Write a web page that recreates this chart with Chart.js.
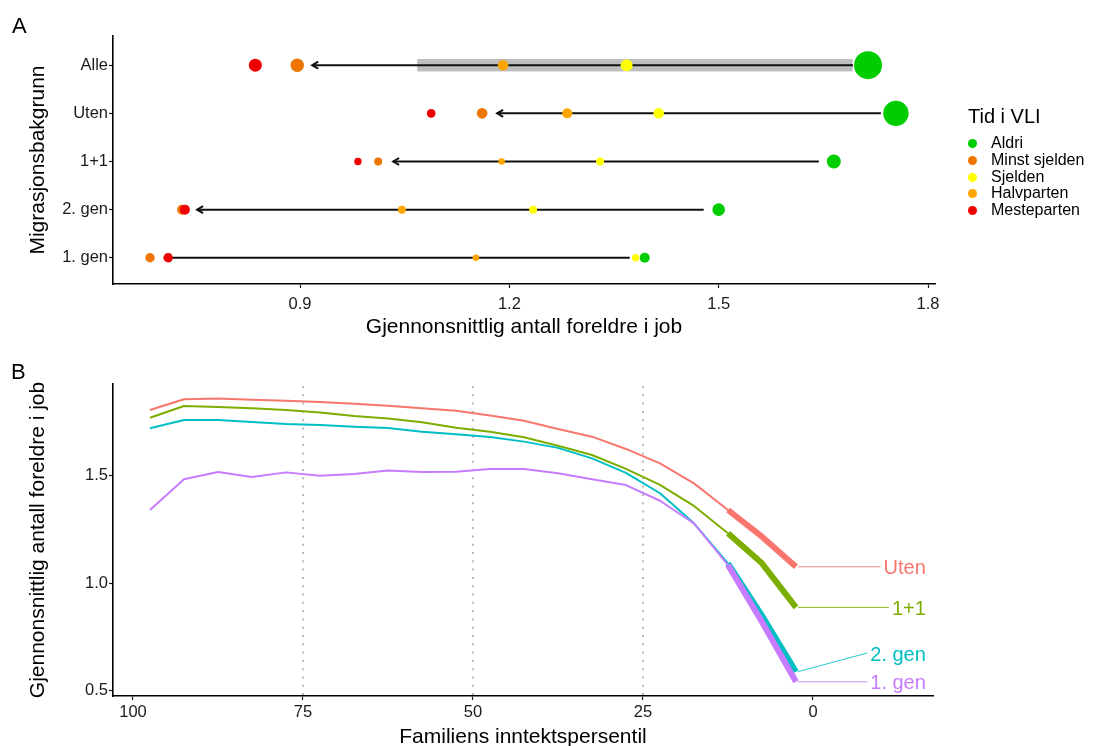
<!DOCTYPE html>
<html>
<head>
<meta charset="utf-8">
<script src="https://cdn.jsdelivr.net/npm/chart.js@4.4.1/dist/chart.umd.min.js"></script>
<style>
  html, body { margin: 0; padding: 0; background: #fff; overflow: hidden; }
  #wrap { position: relative; width: 1093px; height: 746px; overflow: hidden; font-family: 'Liberation Sans', Arial, sans-serif; }
  canvas { position: absolute; left: 0; top: 0; }
  .panel { position: absolute; font-size: 22px; color: #000; line-height: 1; }
  #legend { position: absolute; left: 968px; top: 104px; color: #000; }
  #legend .ttl { font-size: 20px; line-height: 24px; margin-bottom: 7px; }
  #legend .it { position: relative; height: 16.8px; font-size: 16px; line-height: 16.8px; padding-left: 23px; }
  #legend .dot { position: absolute; left: 0px; top: 4px; width: 9px; height: 9px; border-radius: 50%; }
</style>
</head>
<body>
<div id="wrap">
  <canvas id="cA" width="1093" height="345"></canvas>
  <canvas id="cB" width="1093" height="750"></canvas>
  <div class="panel" style="left:12px; top:15px;">A</div>
  <div class="panel" style="left:11px; top:361px;">B</div>
  <div id="legend"></div>
</div>
<script>
// ---------------- DATA ----------------
// Panel A
const groups = ["Alle", "Uten", "1+1", "2. gen", "1. gen"];
const vliCategories = ["Aldri", "Minst sjelden", "Sjelden", "Halvparten", "Mesteparten"];
const aldri        = [1.714, 1.754, 1.665, 1.500, 1.394];
const minstSjelden = [0.896, 1.161, 1.012, 0.731, 0.685];
const sjelden      = [1.368, 1.414, 1.330, 1.234, 1.381];
const halvparten   = [1.191, 1.283, 1.189, 1.046, 1.152];
const mesteparten  = [0.836, 1.088, 0.983, 0.735, 0.711];
const alleBandLow  = 1.068;
const alleBandHigh = 1.692;
const xTicksA = [0.9, 1.2, 1.5, 1.8];

// Panel B
const percentiles = [97.5, 92.5, 87.5, 82.5, 77.5, 72.5, 67.5, 62.5, 57.5, 52.5,
                     47.5, 42.5, 37.5, 32.5, 27.5, 22.5, 17.5, 12.5, 7.5, 2.5];
const seriesNames = ["Uten", "1+1", "2. gen", "1. gen"];
const uten   = [1.806, 1.856, 1.859, 1.854, 1.849, 1.843, 1.835, 1.826, 1.814, 1.803,
                1.780, 1.756, 1.718, 1.682, 1.625, 1.558, 1.465, 1.341, 1.217, 1.077];
const enPlusEn = [1.770, 1.825, 1.820, 1.814, 1.806, 1.794, 1.778, 1.767, 1.749, 1.724,
                1.705, 1.679, 1.640, 1.597, 1.532, 1.458, 1.360, 1.233, 1.093, 0.888];
const andreGen = [1.721, 1.760, 1.760, 1.750, 1.741, 1.736, 1.728, 1.722, 1.705, 1.693,
                1.680, 1.659, 1.630, 1.581, 1.514, 1.419, 1.279, 1.093, 0.850, 0.589];
const forsteGen = [1.341, 1.484, 1.518, 1.494, 1.516, 1.500, 1.508, 1.525, 1.518, 1.519,
                1.532, 1.532, 1.512, 1.484, 1.457, 1.384, 1.279, 1.085, 0.820, 0.542];
const xTicksB = [100, 75, 50, 25, 0];
const yTicksB = [0.5, 1.0, 1.5];
const refPercentiles = [75, 50, 25];
const thickFromPercentile = 12.5;

// ---------------- STYLE ----------------
const FONT = "'Liberation Sans', Arial, sans-serif";
Chart.defaults.font.family = FONT;
Chart.defaults.color = '#1a1a1a';
const TICK_FONT = 16.5, TITLE_FONT = 21;
const vliColors = ['#00CD00', '#EE7600', '#FFFF00', '#FFA500', '#EE0000'];
// point radii (per group row, top to bottom)
const RADII = {
  "Aldri":         [14, 12.7, 7, 6.3, 5],
  "Minst sjelden": [6.7, 5.3, 4, 5, 4.7],
  "Sjelden":       [6, 5.3, 4, 4, 3.7],
  "Halvparten":    [5.3, 5, 3.3, 4, 3.3],
  "Mesteparten":   [6.5, 4.3, 3.7, 5, 4.7]
};
const seriesColors = ['#F8766D', '#7CAE00', '#00BFC4', '#C77CFF'];
const labelPos = { xRight: -16.6, y: [1.077, 0.888, 0.676, 0.542] };
const ARROW_GAP = 15;

// Legend (HTML)
const leg = document.getElementById('legend');
leg.innerHTML = '<div class="ttl">Tid i VLI</div>' + vliCategories.map((c, i) =>
  `<div class="it"><span class="dot" style="background:${vliColors[i]}"></span>${c}</div>`).join('');

const rowVal = i => groups.length - i; // Alle -> 5 (top)

// ---------------- PANEL A ----------------
const valsA = [aldri, minstSjelden, sjelden, halvparten, mesteparten];
const datasetsA = vliCategories.map((c, k) => ({
  label: c,
  type: 'scatter',
  data: valsA[k].map((v, i) => ({ x: v, y: rowVal(i) })),
  pointRadius: RADII[c],
  pointHoverRadius: RADII[c],
  pointBackgroundColor: vliColors[k],
  pointBorderWidth: 0,
  borderWidth: 0,
  order: vliCategories.length - k
}));

const arrowsPlugin = {
  id: 'arrows',
  beforeDatasetsDraw(chart) {
    const { ctx, scales: { x, y } } = chart;
    ctx.save();
    // grey band for "Alle"
    const yb = y.getPixelForValue(rowVal(0));
    ctx.fillStyle = '#BEBEBE';
    const xa = x.getPixelForValue(alleBandLow), xb = x.getPixelForValue(alleBandHigh);
    ctx.fillRect(xa, yb - 6.2, xb - xa, 12.4);
    // arrows
    ctx.strokeStyle = '#111';
    ctx.lineWidth = 2;
    groups.forEach((g, i) => {
      const yy = y.getPixelForValue(rowVal(i));
      const x1 = x.getPixelForValue(aldri[i]) - ARROW_GAP;
      const x2 = x.getPixelForValue(minstSjelden[i]) + ARROW_GAP;
      ctx.beginPath();
      ctx.moveTo(x1, yy); ctx.lineTo(x2, yy); ctx.stroke();
      ctx.beginPath();
      ctx.moveTo(x2 + 6, yy - 3.5); ctx.lineTo(x2, yy); ctx.lineTo(x2 + 6, yy + 3.5);
      ctx.stroke();
    });
    ctx.restore();
  }
};

new Chart(document.getElementById('cA'), {
  type: 'scatter',
  data: { datasets: datasetsA },
  options: {
    responsive: false, animation: false,
    layout: { padding: { left: 0, top: 36, right: 158, bottom: 0 } },
    plugins: { legend: { display: false }, tooltip: { enabled: false } },
    scales: {
      x: {
        type: 'linear', min: 0.632, max: 1.81,
        afterBuildTicks: a => { a.ticks = xTicksA.map(v => ({ value: v })); },
        afterFit: a => { a.height = 345 - 284; },
        ticks: { font: { size: TICK_FONT }, color: '#1a1a1a', padding: 6.5, callback: v => v.toFixed(1), maxRotation: 0 },
        grid: { display: true, drawOnChartArea: false, tickLength: 4, tickColor: '#1a1a1a', tickWidth: 1.2 },
        border: { color: '#000', width: 1.6 },
        title: { display: true, text: 'Gjennonsnittlig antall foreldre i job', font: { size: TITLE_FONT }, color: '#000', padding: { top: 0, bottom: 5 } }
      },
      y: {
        type: 'linear', min: 0.455, max: 5.607,
        afterBuildTicks: a => { a.ticks = groups.map((g, i) => ({ value: rowVal(i) })); },
        afterFit: a => { a.width = 113; },
        ticks: { font: { size: TICK_FONT }, color: '#1a1a1a', padding: 1, callback: v => groups[groups.length - v] },
        grid: { display: true, drawOnChartArea: false, tickLength: 4, tickColor: '#1a1a1a', tickWidth: 1.2 },
        border: { color: '#000', width: 1.6 },
        title: { display: true, text: 'Migrasjonsbakgrunn', font: { size: TITLE_FONT }, color: '#000', padding: { top: 25.4, bottom: 0 } }
      }
    }
  },
  plugins: [arrowsPlugin]
});

// ---------------- PANEL B ----------------
const valsB = [uten, enPlusEn, andreGen, forsteGen];
const thickIdx = percentiles.indexOf(thickFromPercentile);
const datasetsB = seriesNames.map((n, k) => ({
  label: n,
  data: valsB[k].map((v, i) => ({ x: percentiles[i], y: v })),
  borderColor: seriesColors[k],
  borderWidth: 2,
  pointRadius: 0,
  fill: false,
  tension: 0,
  borderJoinStyle: 'round',
  order: seriesNames.length - k,
  segment: { borderWidth: ctx => ctx.p0DataIndex >= thickIdx ? 6 : 2 }
}));

const refLinesPlugin = {
  id: 'refLines',
  beforeDatasetsDraw(chart) {
    const { ctx, scales: { x, y } } = chart;
    ctx.save();
    ctx.strokeStyle = '#BBBBBB';
    ctx.lineWidth = 2;
    ctx.setLineDash([2, 6.3]);
    refPercentiles.forEach(p => {
      const xx = Math.round(x.getPixelForValue(p));
      ctx.beginPath();
      ctx.moveTo(xx, y.top + 2); ctx.lineTo(xx, y.bottom);
      ctx.stroke();
    });
    ctx.restore();
  }
};

const labelsPlugin = {
  id: 'endLabels',
  afterDatasetsDraw(chart) {
    const { ctx, scales: { x, y } } = chart;
    ctx.save();
    ctx.font = `20px ${FONT}`;
    ctx.textAlign = 'right';
    ctx.textBaseline = 'middle';
    const last = percentiles.length - 1;
    seriesNames.forEach((n, k) => {
      const xe = x.getPixelForValue(percentiles[last]) + 2;
      const ye = y.getPixelForValue(valsB[k][last]);
      const xr = x.getPixelForValue(labelPos.xRight);
      const yl = y.getPixelForValue(labelPos.y[k]);
      const w = ctx.measureText(n).width;
      ctx.strokeStyle = seriesColors[k];
      ctx.globalAlpha = 0.85;
      ctx.lineWidth = 1;
      ctx.beginPath();
      ctx.moveTo(xe, ye); ctx.lineTo(xr - w - 3, yl); ctx.stroke();
      ctx.globalAlpha = 1;
      ctx.fillStyle = seriesColors[k];
      ctx.fillText(n, xr, yl + 2);
    });
    ctx.restore();
  }
};

new Chart(document.getElementById('cB'), {
  type: 'line',
  data: { datasets: datasetsB },
  options: {
    responsive: false, animation: false,
    layout: { padding: { left: 0, top: 384, right: 160, bottom: 0 } },
    plugins: { legend: { display: false }, tooltip: { enabled: false } },
    scales: {
      x: {
        type: 'linear', reverse: true, min: -17.65, max: 102.94,
        afterBuildTicks: a => { a.ticks = xTicksB.map(v => ({ value: v })); },
        afterFit: a => { a.height = 750 - 696; },
        ticks: { font: { size: TICK_FONT }, color: '#1a1a1a', padding: 2.6, maxRotation: 0 },
        grid: { display: true, drawOnChartArea: false, tickLength: 4, tickColor: '#1a1a1a', tickWidth: 1.2 },
        border: { color: '#000', width: 1.6 },
        title: { display: true, text: 'Familiens inntektspersentil', font: { size: TITLE_FONT }, color: '#000', padding: { top: 0, bottom: 0 } }
      },
      y: {
        type: 'linear', min: 0.476, max: 1.927,
        afterBuildTicks: a => { a.ticks = yTicksB.map(v => ({ value: v })); },
        afterFit: a => { a.width = 113; },
        ticks: { font: { size: TICK_FONT }, color: '#1a1a1a', padding: 1, callback: v => v.toFixed(1) },
        grid: { display: true, drawOnChartArea: false, tickLength: 4, tickColor: '#1a1a1a', tickWidth: 1.2 },
        border: { color: '#000', width: 1.6 },
        title: { display: true, text: 'Gjennonsnittlig antall foreldre i job', font: { size: TITLE_FONT }, color: '#000', padding: { top: 25.4, bottom: 0 } }
      }
    }
  },
  plugins: [refLinesPlugin, labelsPlugin]
});
</script>
</body>
</html>
